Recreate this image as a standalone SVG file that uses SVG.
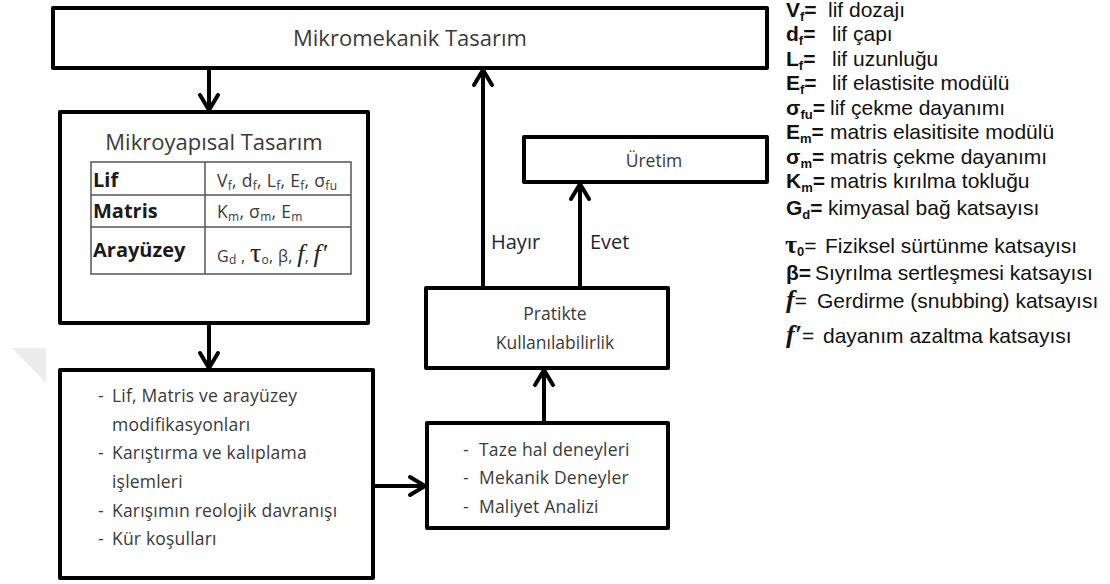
<svg xmlns="http://www.w3.org/2000/svg" width="1110" height="584" viewBox="0 0 1110 584">
<style>
.box{fill:#fff;stroke:#000;stroke-width:4;stroke-linejoin:round}
.con{stroke:#000;stroke-width:4;fill:none}
.t{font-family:"Open Sans","Noto Sans",sans-serif;fill:#3a3a3a}
.tb{font-family:"Open Sans","Noto Sans",sans-serif;font-weight:bold;fill:#1a1a1a}
.grid{stroke:#555;stroke-width:1.5;fill:none}
.lg{font-family:"Liberation Sans",Arial,sans-serif;font-size:21px;fill:#111}
.lb{font-weight:bold}
.ls{font-size:13px;font-weight:bold}
.ser{font-family:"Liberation Serif","Times New Roman",serif}
.yn{font-family:"Open Sans","Noto Sans",sans-serif;font-size:20px;fill:#1c2433}
</style>
<defs>
<marker id="ah" viewBox="0 0 20 20" refX="18" refY="10" markerWidth="20" markerHeight="20" markerUnits="userSpaceOnUse" orient="auto" overflow="visible">
<path d="M3,1 L18,10 L3,19" fill="none" stroke="#000" stroke-width="4" stroke-linecap="round" stroke-linejoin="miter"/>
</marker>
</defs>

<polygon points="12,348 46,348 46,383" fill="#ececec"/>

<g id="connectors">
<line class="con" x1="209" y1="68" x2="209" y2="110" marker-end="url(#ah)"/>
<line class="con" x1="209" y1="323" x2="209" y2="368" marker-end="url(#ah)"/>
<line class="con" x1="373" y1="486" x2="425" y2="486" marker-end="url(#ah)"/>
<line class="con" x1="544" y1="423" x2="544" y2="370" marker-end="url(#ah)"/>
<line class="con" x1="483" y1="288" x2="483" y2="70" marker-end="url(#ah)"/>
<line class="con" x1="580" y1="288" x2="580" y2="184" marker-end="url(#ah)"/>
<text class="yn" x="491" y="249">Hayır</text>
<text class="yn" x="590" y="249">Evet</text>
</g>

<g id="mikromekanik">
<rect class="box" x="53" y="8" width="714" height="60"/>
<text class="t" x="410" y="46" font-size="22" text-anchor="middle">Mikromekanik Tasarım</text>
</g>

<g id="mikroyapisal">
<rect class="box" x="60" y="112" width="308" height="211"/>
<text class="t" x="214" y="150" font-size="22" text-anchor="middle">Mikroyapısal Tasarım</text>
<rect class="grid" x="91" y="162" width="260" height="112"/>
<line class="grid" x1="91" y1="195" x2="351" y2="195"/>
<line class="grid" x1="91" y1="227" x2="351" y2="227"/>
<line class="grid" x1="205" y1="162" x2="205" y2="274"/>
<text class="tb" x="93" y="187" font-size="20">Lif</text>
<text class="tb" x="93" y="218" font-size="20">Matris</text>
<text class="tb" x="93" y="257" font-size="20">Arayüzey</text>
<text class="t" x="217" y="187" font-size="17.5" letter-spacing="0.3">V<tspan font-size="12" dy="3">f</tspan><tspan dy="-3">, d</tspan><tspan font-size="12" dy="3">f</tspan><tspan dy="-3">, L</tspan><tspan font-size="12" dy="3">f</tspan><tspan dy="-3">, E</tspan><tspan font-size="12" dy="3">f</tspan><tspan dy="-3">, σ</tspan><tspan font-size="12" dy="3">fu</tspan></text>
<text class="t" x="217" y="218" font-size="17.5" letter-spacing="0.3">K<tspan font-size="12" dy="3">m</tspan><tspan dy="-3">, σ</tspan><tspan font-size="12" dy="3">m</tspan><tspan dy="-3">, E</tspan><tspan font-size="12" dy="3">m</tspan></text>
<text class="t" x="217" y="262" font-size="16" letter-spacing="0.3">G<tspan font-size="12" dy="2">d</tspan><tspan dy="-2"> , </tspan><tspan class="ser" font-size="28" fill="#222">τ</tspan><tspan font-size="12" dy="2">o</tspan><tspan dy="-2">, β, </tspan><tspan class="ser" font-size="26" font-style="italic" fill="#222">f</tspan><tspan>, </tspan><tspan class="ser" font-size="26" font-style="italic" fill="#222">f′</tspan></text>
</g>

<g id="islemler">
<rect class="box" x="60" y="370" width="313" height="208"/>
<text class="t" font-size="17.5" letter-spacing="0.2"><tspan x="98" y="402">-</tspan><tspan x="112" y="402">Lif, Matris ve arayüzey</tspan><tspan x="112" y="431">modifikasyonları</tspan><tspan x="98" y="459">-</tspan><tspan x="112" y="459">Karıştırma ve kalıplama</tspan><tspan x="112" y="488">işlemleri</tspan><tspan x="98" y="517">-</tspan><tspan x="112" y="517">Karışımın reolojik davranışı</tspan><tspan x="98" y="545">-</tspan><tspan x="112" y="545">Kür koşulları</tspan></text>
</g>

<g id="deneyler">
<rect class="box" x="427" y="423" width="241" height="105"/>
<text class="t" font-size="17.5" letter-spacing="0.2"><tspan x="463" y="456">-</tspan><tspan x="479" y="456">Taze hal deneyleri</tspan><tspan x="463" y="484">-</tspan><tspan x="479" y="484">Mekanik Deneyler</tspan><tspan x="463" y="513">-</tspan><tspan x="479" y="513">Maliyet Analizi</tspan></text>
</g>

<g id="pratikte">
<rect class="box" x="426" y="288" width="242" height="80"/>
<text class="t" font-size="17.5" text-anchor="middle"><tspan x="555" y="320">Pratikte</tspan><tspan x="555" y="349">Kullanılabilirlik</tspan></text>
</g>

<g id="uretim">
<rect class="box" x="524" y="137" width="243" height="45"/>
<text class="t" x="654" y="167" font-size="17.5" text-anchor="middle">Üretim</text>
</g>

<g id="legend">
<text class="lg" x="786" y="17"><tspan class="lb">V</tspan><tspan class="ls" dy="4">f</tspan><tspan class="lb" dy="-4">=</tspan><tspan x="828">lif dozajı</tspan></text>
<text class="lg" x="786" y="41"><tspan class="lb">d</tspan><tspan class="ls" dy="4">f</tspan><tspan class="lb" dy="-4">=</tspan><tspan x="832">lif çapı</tspan></text>
<text class="lg" x="786" y="66"><tspan class="lb">L</tspan><tspan class="ls" dy="4">f</tspan><tspan class="lb" dy="-4">=</tspan><tspan x="832">lif uzunluğu</tspan></text>
<text class="lg" x="786" y="90"><tspan class="lb">E</tspan><tspan class="ls" dy="4">f</tspan><tspan class="lb" dy="-4">=</tspan><tspan x="832">lif elastisite modülü</tspan></text>
<text class="lg" x="786" y="115"><tspan class="lb">σ</tspan><tspan class="ls" dy="4">fu</tspan><tspan class="lb" dy="-4">=</tspan><tspan x="830">lif çekme dayanımı</tspan></text>
<text class="lg" x="786" y="139"><tspan class="lb">E</tspan><tspan class="ls" dy="4">m</tspan><tspan class="lb" dy="-4">=</tspan><tspan x="830">matris elasitisite modülü</tspan></text>
<text class="lg" x="786" y="164"><tspan class="lb">σ</tspan><tspan class="ls" dy="4">m</tspan><tspan class="lb" dy="-4">=</tspan><tspan x="830">matris çekme dayanımı</tspan></text>
<text class="lg" x="786" y="188"><tspan class="lb">K</tspan><tspan class="ls" dy="4">m</tspan><tspan class="lb" dy="-4">=</tspan><tspan x="830">matris kırılma tokluğu</tspan></text>
<text class="lg" x="786" y="215"><tspan class="lb">G</tspan><tspan class="ls" dy="4">d</tspan><tspan class="lb" dy="-4">=</tspan><tspan x="828">kimyasal bağ katsayısı</tspan></text>
<text class="lg" x="785" y="253"><tspan class="lb ser" font-size="26">τ</tspan><tspan class="ls" dy="3">0</tspan><tspan dy="-3">=</tspan><tspan x="825">Fiziksel sürtünme katsayısı</tspan></text>
<text class="lg" x="786" y="280"><tspan class="lb">β=</tspan><tspan x="815">Sıyrılma sertleşmesi katsayısı</tspan></text>
<text class="lg" x="786" y="308"><tspan class="lb ser" font-size="26" font-style="italic">f</tspan><tspan>=</tspan><tspan x="817">Gerdirme (snubbing) katsayısı</tspan></text>
<text class="lg" x="786" y="343"><tspan class="lb ser" font-size="26" font-style="italic">f′</tspan><tspan>=</tspan><tspan x="823">dayanım azaltma katsayısı</tspan></text>
</g>
</svg>
